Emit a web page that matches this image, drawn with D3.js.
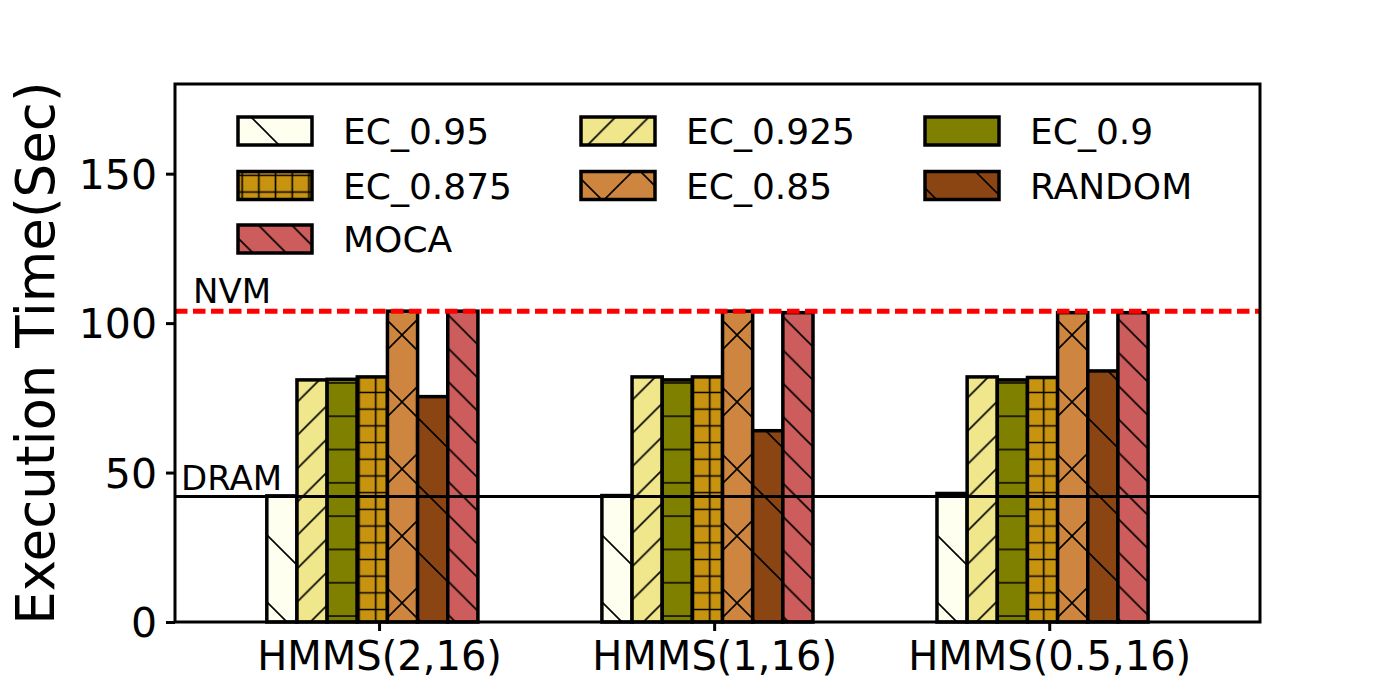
<!DOCTYPE html>
<html>
<head>
<meta charset="utf-8">
<script src="https://cdn.jsdelivr.net/npm/d3@7"></script>
<style>
  html, body { margin: 0; padding: 0; background: #ffffff; }
  svg { display: block; font-family: "DejaVu Sans", sans-serif; }
</style>
</head>
<body>
<svg id="chart" width="1400" height="700"></svg>
<script>
// ---------------- data ----------------
const categories = ["HMMS(2,16)", "HMMS(1,16)", "HMMS(0.5,16)"];
const seriesNames = ["EC_0.95", "EC_0.925", "EC_0.9", "EC_0.875", "EC_0.85", "RANDOM", "MOCA"];
const ec095   = [42.2, 42.3, 43.0];
const ec0925  = [81.0, 82.0, 82.0];
const ec09    = [81.2, 81.0, 81.0];
const ec0875  = [82.0, 82.0, 81.8];
const ec085   = [104.0, 104.0, 103.5];
const randomV = [75.4, 64.0, 84.0];
const mocaV   = [104.0, 103.5, 103.5];
const seriesValues = [ec095, ec0925, ec09, ec0875, ec085, randomV, mocaV];
const yTicks = [0, 50, 100, 150];
const dramLevel = 42;
const nvmLevel = 104;
const refLabels = ["DRAM", "NVM"];

// ---------------- styles ----------------
const seriesColors = ["#fffff0", "#f0e68c", "#808000", "#c8930e", "#cd853f", "#8b4513", "#cd5c5c"];
const seriesHatch  = ["\\", "/", "-", "+", "x", "\\", "\\"];
const hatchSpacing = [67, 33.3, 33.3, 16.7, 67, 67, 33.3];

// ---------------- layout ----------------
const W = 1400, H = 700;
const plot = { left: 175, right: 1260, top: 84, bottom: 622 };
const barW = 0.09;
const tickOffset = 0.29;

const svg = d3.select("#chart");
svg.append("rect").attr("width", W).attr("height", H).attr("fill", "#fff");

const x = d3.scaleLinear().domain([-0.319, 2.919]).range([plot.left, plot.right]);
const y = d3.scaleLinear().domain([0, 180]).range([plot.bottom, plot.top]);
const bwPx = x(barW) - x(0);

// ---------------- hatch patterns ----------------
const defs = svg.append("defs");
seriesNames.forEach((name, k) => {
  const d = hatchSpacing[k];
  const p = defs.append("pattern")
    .attr("id", "hatch" + k)
    .attr("patternUnits", "userSpaceOnUse")
    .attr("width", d).attr("height", d);
  p.append("rect").attr("width", d).attr("height", d).attr("fill", seriesColors[k]);
  const h = seriesHatch[k];
  let path = "";
  if (h === "\\" || h === "x") {
    path += `M${-d * 0.1},${-d * 0.1} L${d * 1.1},${d * 1.1} M${-d * 0.1},${d * 0.9} L${d * 0.1},${d * 1.1} M${d * 0.9},${-d * 0.1} L${d * 1.1},${d * 0.1} `;
  }
  if (h === "/" || h === "x") {
    path += `M${-d * 0.1},${d * 1.1} L${d * 1.1},${-d * 0.1} M${-d * 0.1},${d * 0.1} L${d * 0.1},${-d * 0.1} M${d * 0.9},${d * 1.1} L${d * 1.1},${d * 0.9} `;
  }
  if (h === "-" || h === "+") {
    path += `M0,${d / 2} L${d},${d / 2} `;
  }
  if (h === "+") {
    path += `M${d / 2},0 L${d / 2},${d} `;
  }
  p.append("path").attr("d", path).attr("stroke", "#000").attr("stroke-width", 1.6).attr("fill", "none");
});

// ---------------- bars ----------------
const barData = [];
seriesValues.forEach((vals, k) => {
  vals.forEach((v, i) => barData.push({ k, i, v }));
});
svg.append("g").selectAll("rect")
  .data(barData)
  .join("rect")
  .attr("x", d => x(d.i + d.k * barW) - bwPx / 2)
  .attr("width", bwPx)
  .attr("y", d => y(d.v))
  .attr("height", d => y(0) - y(d.v))
  .attr("fill", d => `url(#hatch${d.k})`)
  .attr("stroke", "#000")
  .attr("stroke-width", 3.5);

// ---------------- reference lines ----------------
svg.append("line")
  .attr("x1", plot.left).attr("x2", plot.right)
  .attr("y1", y(dramLevel)).attr("y2", y(dramLevel))
  .attr("stroke", "#000").attr("stroke-width", 3);
svg.append("line")
  .attr("x1", plot.left).attr("x2", plot.right)
  .attr("y1", y(nvmLevel)).attr("y2", y(nvmLevel))
  .attr("stroke", "#ff0000").attr("stroke-width", 5)
  .attr("stroke-dasharray", "12.5,5.5");

svg.append("text").attr("x", 181).attr("y", y(dramLevel) - 6)
  .attr("font-size", 34).attr("fill", "#000").text(refLabels[0]);
svg.append("text").attr("x", 193).attr("y", y(nvmLevel) - 8)
  .attr("font-size", 34).attr("fill", "#000").text(refLabels[1]);

// ---------------- axes ----------------
const yAxis = d3.axisLeft(y).tickValues(yTicks).tickSize(9).tickPadding(9).tickFormat(d3.format("d"));
const gy = svg.append("g").attr("transform", `translate(${plot.left},0)`).call(yAxis);
gy.select(".domain").remove();
gy.selectAll(".tick line").attr("stroke", "#000").attr("stroke-width", 3);
gy.selectAll(".tick text").attr("font-size", 41).attr("fill", "#000")
  .attr("font-family", "DejaVu Sans").attr("dy", "0.36em");

const xAxis = d3.axisBottom(x)
  .tickValues(categories.map((c, i) => i + tickOffset))
  .tickFormat((d, i) => categories[i])
  .tickSize(9).tickPadding(11);
const gx = svg.append("g").attr("transform", `translate(0,${plot.bottom})`).call(xAxis);
gx.select(".domain").remove();
gx.selectAll(".tick line").attr("stroke", "#000").attr("stroke-width", 3);
gx.selectAll(".tick text").attr("font-size", 40).attr("fill", "#000")
  .attr("font-family", "DejaVu Sans");

// frame
svg.append("rect")
  .attr("x", plot.left).attr("y", plot.top)
  .attr("width", plot.right - plot.left).attr("height", plot.bottom - plot.top)
  .attr("fill", "none").attr("stroke", "#000").attr("stroke-width", 3);

// y label
svg.append("text")
  .attr("transform", `translate(54,${(plot.top + plot.bottom) / 2}) rotate(-90)`)
  .attr("text-anchor", "middle")
  .attr("font-size", 53).attr("fill", "#000")
  .text("Execution Time(Sec)");

// ---------------- legend ----------------
const legCols = [238, 581, 925];
const legRows = [117, 171.5, 225];
const leg = svg.append("g");
seriesNames.forEach((name, k) => {
  const cx = legCols[k % 3], ry = legRows[Math.floor(k / 3)];
  leg.append("rect").attr("x", cx).attr("y", ry).attr("width", 74).attr("height", 28)
    .attr("fill", `url(#hatch${k})`).attr("stroke", "#000").attr("stroke-width", 3.5);
  leg.append("text").attr("x", cx + 105).attr("y", ry + 14 + 13)
    .attr("font-size", 36).attr("fill", "#000").text(name);
});
</script>
</body>
</html>
